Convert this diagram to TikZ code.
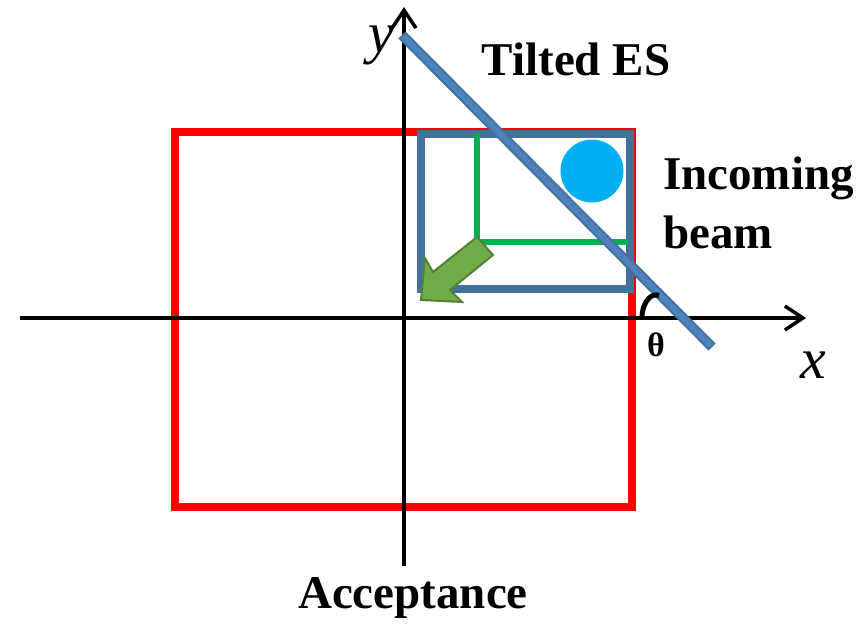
\documentclass[tikz,border=0pt]{standalone}
\usepackage{fontspec}
\setmainfont{Liberation Serif}
\usetikzlibrary{arrows.meta}
\definecolor{accred}{RGB}{255,0,0}
\definecolor{esblue}{RGB}{65,113,156}
\definecolor{eslight}{RGB}{79,129,189}
\definecolor{beamgreen}{RGB}{0,176,80}
\definecolor{beamcyan}{RGB}{0,176,240}
\definecolor{arrowfill}{RGB}{112,173,71}
\definecolor{arrowedge}{RGB}{84,130,53}
\tikzset{
  axis/.style={line width=4pt, -{Straight Barb[length=18pt,width=24pt,line width=3.5pt]}},
  lbl/.style={font=\fontsize{47}{50}\selectfont\bfseries, inner sep=0pt},
  axlbl/.style={font=\fontsize{58}{60}\selectfont\itshape, inner sep=0pt, anchor=base},
}
\begin{document}
\begin{tikzpicture}[x=1pt,y=-1pt]
\useasboundingbox (0,0) rectangle (867,624);
% acceptance
\draw[accred, line width=7.5pt] (175,132) rectangle (632,507);
% axes
\coordinate (xs) at (20,318); \coordinate (xe) at (806,318);
\coordinate (ys) at (404,566); \coordinate (ye) at (404,7);
\draw[axis] (xs) -- (xe);
\draw[axis] (ys) -- (ye);
% beam box
\draw[esblue, line width=7.5pt] (421,134) rectangle (630,289);
\draw[beamgreen, line width=6.5pt] (477,134) -- (477,242) -- (628,242);
\fill[beamcyan] (592,171) circle (31.5);
% tilted ES
\coordinate (es1) at (402,35); \coordinate (es2) at (712,347);
\draw[esblue, line width=10pt] (es1) -- (es2);
\draw[eslight, line width=6pt, shorten <=2pt, shorten >=2pt] (es1) -- (es2);
% green arrow
\draw[arrowedge, fill=arrowfill, line width=2pt, line join=miter]
  (421,300) -- (425,258) -- (433,272) -- (477,237) -- (493,255) -- (450,290) -- (462,302) -- cycle;
% theta arc
\draw[line width=5pt] (642,318) arc[start angle=180, end angle=282, x radius=14, y radius=23];
% labels
\node[font=\fontsize{34}{36}\selectfont\bfseries, inner sep=0pt] (th) at (656,345) {θ};
\node[axlbl] (ylab) at (381,52) {y};
\node[axlbl] (xlab) at (813,378) {x};
\node[lbl] (tes) at (576,59) {Tilted ES};
\node[lbl, anchor=west] (inc) at (663,178) {Incoming};
\node[lbl] (beam) at (718,232) {beam};
\node[lbl] (acc) at (413,598) {Acceptance};
\end{tikzpicture}
\end{document}
